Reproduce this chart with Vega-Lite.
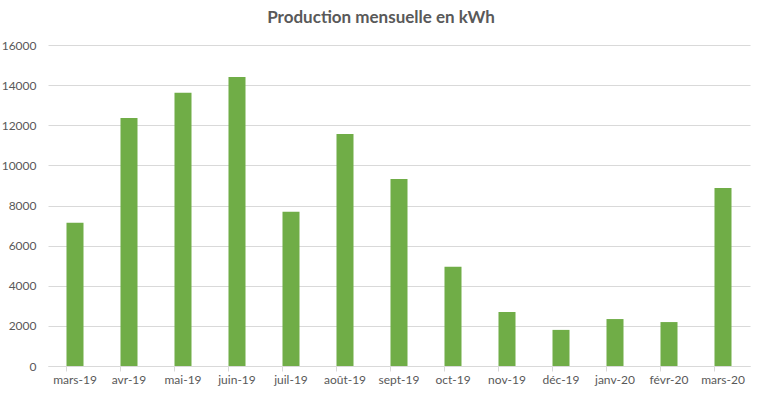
{
  "$schema": "https://vega.github.io/schema/vega-lite/v6.json",
  "autosize": {"type": "none"},
  "padding": {"left": 48, "top": 45, "right": 13, "bottom": 30},
  "width": 702,
  "height": 321,
  "background": "white",
  "title": {
    "text": "Production mensuelle en kWh",
    "font": "Lato",
    "fontSize": 17,
    "fontWeight": "bold",
    "color": "#595959",
    "anchor": "middle",
    "frame": "group",
    "dx": -18,
    "offset": 12
  },
  "config": {
    "view": {"stroke": null},
    "axis": {"labelFont": "Lato", "labelFontSize": 12, "labelColor": "#595959", "titleFont": "Lato"}
  },
  "data": {
    "values": [
      {"mois": "mars-19", "kwh": 7140},
      {"mois": "avr-19", "kwh": 12360},
      {"mois": "mai-19", "kwh": 13620},
      {"mois": "juin-19", "kwh": 14400},
      {"mois": "juil-19", "kwh": 7690},
      {"mois": "août-19", "kwh": 11570},
      {"mois": "sept-19", "kwh": 9320},
      {"mois": "oct-19", "kwh": 4950},
      {"mois": "nov-19", "kwh": 2690},
      {"mois": "déc-19", "kwh": 1800},
      {"mois": "janv-20", "kwh": 2340},
      {"mois": "févr-20", "kwh": 2190},
      {"mois": "mars-20", "kwh": 8870}
    ]
  },
  "layer": [
    {
      "mark": {"type": "bar", "color": "#70AD47"},
      "encoding": {
        "x": {
          "field": "mois",
          "type": "nominal",
          "sort": null,
          "scale": {"paddingInner": 0.685, "paddingOuter": 0.3425},
          "axis": {
            "title": null,
            "labelAngle": 0,
            "domain": true,
            "domainColor": "#d9d9d9",
            "ticks": true,
            "tickColor": "#d9d9d9",
            "tickSize": 5,
            "bandPosition": 0,
            "labelPadding": 3,
            "labelFlush": false
          }
        },
        "y": {
          "field": "kwh",
          "type": "quantitative",
          "scale": {"domain": [0, 16000], "nice": false},
          "axis": {
            "title": null,
            "values": [0, 2000, 4000, 6000, 8000, 10000, 12000, 14000, 16000],
            "format": "d",
            "domain": false,
            "ticks": false,
            "grid": true,
            "gridColor": "#d9d9d9",
            "labelPadding": 12
          }
        }
      }
    }
  ]
}
